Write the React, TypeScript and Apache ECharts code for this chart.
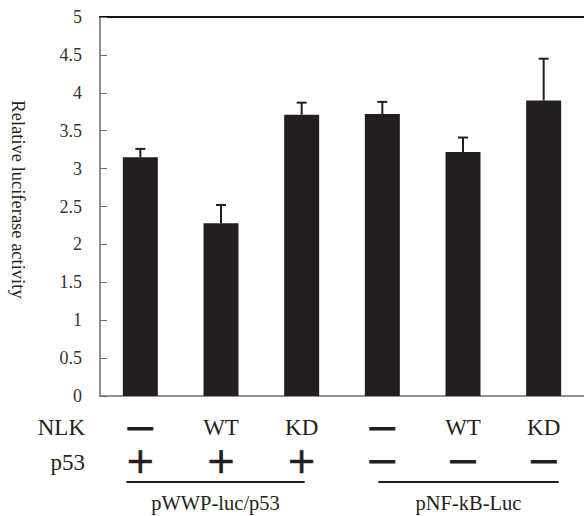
import React, { useEffect, useRef } from "react";
import * as echarts from "echarts";

const nlkLabels = ["—", "WT", "KD", "—", "WT", "KD"];
const p53Labels = ["+", "+", "+", "−", "−", "−"];
const values = [3.15, 2.28, 3.71, 3.72, 3.22, 3.9];
const errors = [0.11, 0.24, 0.16, 0.16, 0.19, 0.55];
const groupNames = ["pWWP-luc/p53", "pNF-kB-Luc"];
const groupFrom = [0, 3];
const groupTo = [2, 5];
const yTicks = { min: 0, max: 5, interval: 0.5 };

const SERIF = "'Liberation Serif', 'Times New Roman', serif";
const SANS = "'Liberation Sans', Arial, sans-serif";
const INK = "#231f20";
const AXIS = "#6d6d6d";

function labelFmt(v: string) {
  if (v === "—" || v === "−") return "{d|—}";
  if (v === "+") return "{p|+}";
  return "{t|" + v + "}";
}

const rich = {
  t: { fontFamily: SERIF, fontSize: 23, color: INK, lineHeight: 28 },
  d: {
    fontFamily: SANS,
    fontSize: 25,
    fontWeight: "bold",
    color: INK,
    textBorderColor: INK,
    textBorderWidth: 1,
    lineHeight: 28,
  },
  p: {
    fontFamily: "'DejaVu Sans', sans-serif",
    fontSize: 36,
    color: INK,
    textBorderColor: INK,
    textBorderWidth: 0.6,
    lineHeight: 28,
  },
};

export default function App() {
  const ref = useRef<HTMLDivElement>(null);
  useEffect(() => {
    if (!ref.current) return;
    const chart = echarts.init(ref.current, null, { renderer: "svg" });
    const option: any = {
      animation: false,
      grid: { left: 100, top: 17, width: 490, height: 379 },
      xAxis: [
        {
          type: "category",
          data: nlkLabels,
          position: "bottom",
          axisLine: { lineStyle: { color: AXIS, width: 1.5 } },
          axisTick: { inside: true, length: 6, lineStyle: { color: AXIS, width: 1 } },
          axisLabel: { margin: 17, formatter: labelFmt, rich, interval: 0 },
        },
        {
          type: "category",
          data: p53Labels,
          position: "bottom",
          offset: 33,
          axisLine: { show: false },
          axisTick: { show: false },
          axisLabel: { margin: 17, formatter: labelFmt, rich, interval: 0 },
        },
        {
          type: "category",
          data: nlkLabels,
          position: "top",
          axisLine: { lineStyle: { color: "#111", width: 2 } },
          axisTick: { show: false },
          axisLabel: { show: false },
        },
      ],
      yAxis: {
        type: "value",
        min: yTicks.min,
        max: yTicks.max,
        interval: yTicks.interval,
        name: "Relative luciferase activity",
        nameLocation: "middle",
        nameRotate: -90,
        nameGap: 73,
        nameTextStyle: { fontFamily: SERIF, fontSize: 18.5, color: INK, padding: [0, 14, 0, 0] },
        axisLine: { show: true, lineStyle: { color: AXIS, width: 1.5 } },
        axisTick: { show: true, inside: true, length: 7, lineStyle: { color: AXIS, width: 1 } },
        splitLine: { show: false },
        axisLabel: { fontFamily: SERIF, fontSize: 18, color: "#333", margin: 18 },
      },
      series: [
        {
          type: "bar",
          xAxisIndex: 0,
          data: values,
          barWidth: 35,
          itemStyle: { color: INK },
          z: 2,
        },
        {
          type: "custom",
          xAxisIndex: 0,
          data: values.map((v, i) => [i, v, v + errors[i]]),
          z: 3,
          renderItem: (params: any, api: any) => {
            const base = api.coord([api.value(0), api.value(1)]);
            const top = api.coord([api.value(0), api.value(2)]);
            const x = base[0];
            return {
              type: "group",
              children: [
                {
                  type: "line",
                  shape: { x1: x, y1: base[1], x2: x, y2: top[1] },
                  style: { stroke: INK, lineWidth: 2 },
                },
                {
                  type: "line",
                  shape: { x1: x - 5, y1: top[1], x2: x + 5, y2: top[1] },
                  style: { stroke: INK, lineWidth: 2 },
                },
              ],
            };
          },
        },
      ],
    };
    chart.setOption(option);

    const lineY = 482;
    const labelY = 503;
    const startOff = [-14, -4];
    const endOff = [3, 15];
    const graphics: any[] = [];
    groupNames.forEach((name, g) => {
      const xa = chart.convertToPixel({ xAxisIndex: 0 }, groupFrom[g] as any) as number;
      const xb = chart.convertToPixel({ xAxisIndex: 0 }, groupTo[g] as any) as number;
      const s = xa + startOff[g];
      const e = xb + endOff[g];
      graphics.push({
        type: "line",
        shape: { x1: s, y1: lineY, x2: e, y2: lineY },
        style: { stroke: INK, lineWidth: 2 },
      });
      graphics.push({
        type: "text",
        x: (s + e) / 2,
        y: labelY,
        style: {
          text: name,
          fontFamily: SERIF,
          fontSize: 20.5,
          fill: INK,
          align: "center",
          verticalAlign: "middle",
        },
      });
    });
    graphics.push({
      type: "text",
      x: 85,
      y: 427,
      style: { text: "NLK", fontFamily: SERIF, fontSize: 23, fill: INK, align: "right", verticalAlign: "middle" },
    });
    graphics.push({
      type: "text",
      x: 85,
      y: 462,
      style: { text: "p53", fontFamily: SERIF, fontSize: 23, fill: INK, align: "right", verticalAlign: "middle" },
    });
    chart.setOption({ graphic: graphics });

    return () => chart.dispose();
  }, []);
  return (
    <div
      ref={ref}
      style={{ position: "absolute", left: 0, top: 0, width: 584, height: 516, background: "#fff" }}
    />
  );
}
